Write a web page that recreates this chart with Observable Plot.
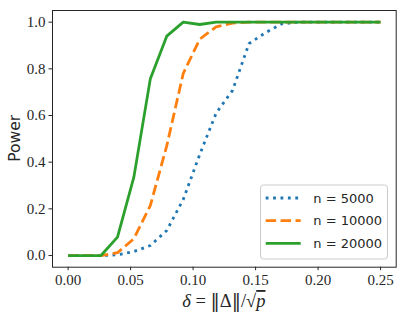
<!DOCTYPE html>
<html><head><meta charset="utf-8">
<script src="https://cdn.jsdelivr.net/npm/d3@7"></script>
<script src="https://cdn.jsdelivr.net/npm/@observablehq/plot@0.6"></script>
<style>
body{margin:0;background:#fff}
svg text.serif, svg g[aria-label$="tick label"] text, svg g[aria-label$="tick label"] { font-family: "Liberation Serif", "Times New Roman", "DejaVu Serif", serif !important; }
svg tspan.bars { font-family: "DejaVu Serif", serif !important; font-weight: 200; }
</style>
</head><body><div id="chart"></div>
<script>
const delta = [0, 0.0132, 0.0263, 0.0395, 0.0526, 0.0658, 0.0789, 0.0921, 0.1053, 0.1184, 0.1316, 0.1447, 0.1579, 0.1711, 0.1842, 0.1974, 0.2105, 0.2237, 0.2368, 0.25];
const power5000  = [0, 0, 0, 0.003, 0.017, 0.043, 0.107, 0.24, 0.433, 0.61, 0.708, 0.908, 0.955, 0.993, 1, 1, 1, 1, 1, 1];
const power10000 = [0, 0, 0, 0.012, 0.072, 0.215, 0.47, 0.78, 0.927, 0.98, 0.996, 1, 1, 1, 1, 1, 1, 1, 1, 1];
const power20000 = [0, 0, 0, 0.079, 0.336, 0.758, 0.94, 1.0, 0.99, 1, 1, 1, 1, 1, 1, 1, 1, 1, 1, 1];
const seriesNames = ["n = 5000", "n = 10000", "n = 20000"];
const seriesColors = ["#1f77b4", "#ff7f0e", "#2ca02c"];
const seriesDash = ["2.8,4.6", "10.4,4.5", null];
const xTicks = [0, 0.05, 0.10, 0.15, 0.20, 0.25];
const yTicks = [0, 0.2, 0.4, 0.6, 0.8, 1.0];
const yLabel = "Power";

const allSeries = [power5000, power10000, power20000];
const rows = [];
allSeries.forEach((arr, k) => arr.forEach((v, i) => rows.push({series: seriesNames[k], delta: delta[i], power: v})));

const W = 407, H = 318, mL = 52, mR = 11.3, mT = 10, mB = 51.3;
const ink = "#262626";

const lineMarks = seriesNames.map((name, k) => Plot.line(rows.filter(d => d.series === name), {
  x: "delta", y: "power", stroke: seriesColors[k], strokeWidth: 2.8,
  strokeDasharray: seriesDash[k] || undefined, strokeLinecap: "butt", strokeLinejoin: "round"
}));

const chart = Plot.plot({
  width: W, height: H, marginLeft: mL, marginRight: mR, marginTop: mT, marginBottom: mB,
  x: {domain: [-0.0125, 0.2625]},
  y: {domain: [-0.05, 1.05]},
  style: {fontSize: "15px", color: ink, background: "white", overflow: "visible"},
  marks: [
    Plot.axisX({ticks: xTicks, tickFormat: d => d.toFixed(2), tickSize: 3.5, tickPadding: 3.5, label: null, fontSize: 15, stroke: ink}),
    Plot.axisY({ticks: yTicks, tickFormat: d => d.toFixed(1), tickSize: 3.5, tickPadding: 3.5, label: null, fontSize: 15, stroke: ink}),
    ...lineMarks,
    Plot.frame({stroke: ink, strokeWidth: 1})
  ]
});
document.getElementById("chart").appendChild(chart);

const svg = d3.select(chart);
// y label
svg.append("text")
  .attr("transform", `translate(19.5,${(mT + H - mB) / 2}) rotate(-90)`)
  .attr("text-anchor", "middle")
  .attr("font-family", "DejaVu Sans").attr("font-size", 15.5).attr("fill", ink)
  .text(yLabel);
// x label
const xl = svg.append("text").attr("class", "serif")
  .attr("x", (mL + W - mR) / 2).attr("y", 307)
  .attr("text-anchor", "middle")
  .attr("font-size", 18.5).attr("fill", ink);
xl.append("tspan").attr("font-style", "italic").text("δ");
xl.append("tspan").text(" = ");
xl.append("tspan").attr("class", "bars").text("‖");
xl.append("tspan").text("Δ");
xl.append("tspan").attr("class", "bars").text("‖");
xl.append("tspan").text("/√");
xl.append("tspan").attr("font-style", "italic").attr("text-decoration", "overline").text("p");

// legend
const lg = svg.append("g");
lg.append("rect").attr("x", 260.5).attr("y", 185).attr("width", 127).attr("height", 74)
  .attr("rx", 3).attr("fill", "white").attr("fill-opacity", 0.8).attr("stroke", "#cccccc").attr("stroke-width", 1);
const rowY = [198, 220.7, 243.3];
seriesNames.forEach((name, k) => {
  lg.append("line").attr("x1", 265.7).attr("x2", 300.7).attr("y1", rowY[k]).attr("y2", rowY[k])
    .attr("stroke", seriesColors[k]).attr("stroke-width", 2.8)
    .attr("stroke-dasharray", seriesDash[k]).attr("stroke-linecap", "butt");
  lg.append("text").attr("x", 313.3).attr("y", rowY[k]).attr("dy", "0.35em")
    .attr("text-anchor", "start")
    .attr("font-family", "DejaVu Sans").attr("font-size", 13).attr("fill", ink)
    .text(name);
});
</script>
</body></html>
